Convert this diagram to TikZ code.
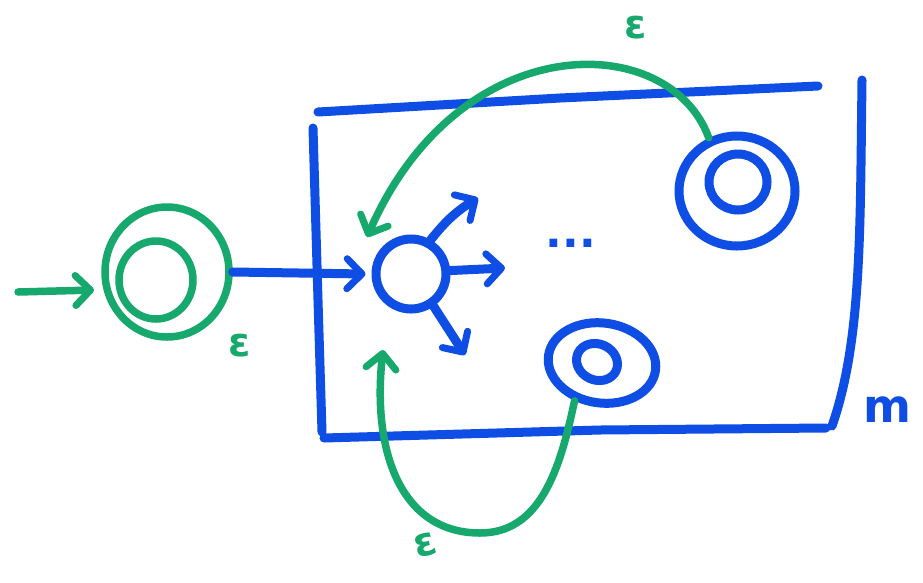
\documentclass[tikz,border=0pt]{standalone}
\usepackage{fontspec}
\usetikzlibrary{arrows.meta,shapes.geometric}
\newfontfamily\handfont{DejaVu Sans}
\definecolor{pen blue}{RGB}{14,78,228}
\definecolor{pen green}{RGB}{22,168,108}
\tikzset{
  x=1pt, y=-1pt,
  blueink/.style={draw=pen blue, line width=9pt, line cap=round, line join=round},
  greenink/.style={draw=pen green, line width=7.5pt, line cap=round, line join=round},
  barb/.style={-{Straight Barb[length=15pt,width=30pt,line width=7pt,round]}},
  state/.style={ellipse, inner sep=0pt, fill=none},
  glabel/.style={text=pen green, font=\handfont\bfseries\fontsize{40}{40}\selectfont},
  blabel/.style={text=pen blue, font=\handfont\bfseries\fontsize{46}{46}\selectfont},
}
\begin{document}
\begin{tikzpicture}
\useasboundingbox (0,0) rectangle (923,582);
\fill[white] (0,0) rectangle (923,582);

% the machine box
\draw[blueink] (318,112) -- (560,98) -- (818,86);
\draw[blueink] (313,128) -- (318,300) -- (322,432);
\draw[blueink] (324,438) -- (600,430) -- (826,428);
\draw[blueink] (862,80) .. controls (860,230) and (862,340) .. (832,426);
\node[blabel] (mlabel) at (887,410) {m};

% start state with its incoming arrow
\node[state, greenink, minimum width=124pt, minimum height=130pt] (s0) at (167,272) {};
\node[state, greenink, minimum width=74pt, minimum height=78pt] (s0in) at (156,280) {};
\coordinate (entry) at (18,292);
\coordinate (entryend) at (94,290);
\draw[greenink, barb] (entry) -- (entryend);
\node[glabel] (eps1) at (240,346) {ε};

% central state and its outgoing arrows
\node[state, blueink, minimum width=70pt, minimum height=70pt] (c) at (411,274) {};
\draw[blueink, barb] (s0.east) -- ([xshift=-6pt]c.west);
\coordinate (o1) at (478,198);
\coordinate (o2) at (505,268);
\coordinate (o3) at (465,355);
\draw[blueink, barb] (c.60) to[bend left=10] (o1);
\draw[blueink, barb] (c.5) -- (o2);
\draw[blueink, barb] (c.-55) -- (o3);
\node[text=pen blue, font=\handfont\bfseries\fontsize{44}{44}\selectfont] (dots) at (571,243) {...};

% accepting states
\node[state, blueink, minimum width=116pt, minimum height=110pt] (f1) at (737,191) {};
\node[state, blueink, minimum width=58pt, minimum height=56pt] (f1in) at (738,182) {};
\node[state, blueink, minimum width=108pt, minimum height=80pt, rotate=-8] (f2) at (602,363) {};
\node[state, blueink, minimum width=42pt, minimum height=36pt, rotate=-25] (f2in) at (597,362) {};

% epsilon moves back to the central state
\draw[greenink, barb] (f1.118) .. controls (670,30) and (460,25) .. ([shift={(-44,-37)}]c.center);
\node[glabel] (eps2) at (636,28) {ε};
\draw[greenink, barb] (f2.-118) .. controls (560,470) and (540,533) .. (480,533)
      .. controls (400,533) and (372,450) .. ([shift={(-28,76)}]c.center);
\node[glabel, rotate=15] (eps3) at (425,545) {ε};
\end{tikzpicture}
\end{document}
